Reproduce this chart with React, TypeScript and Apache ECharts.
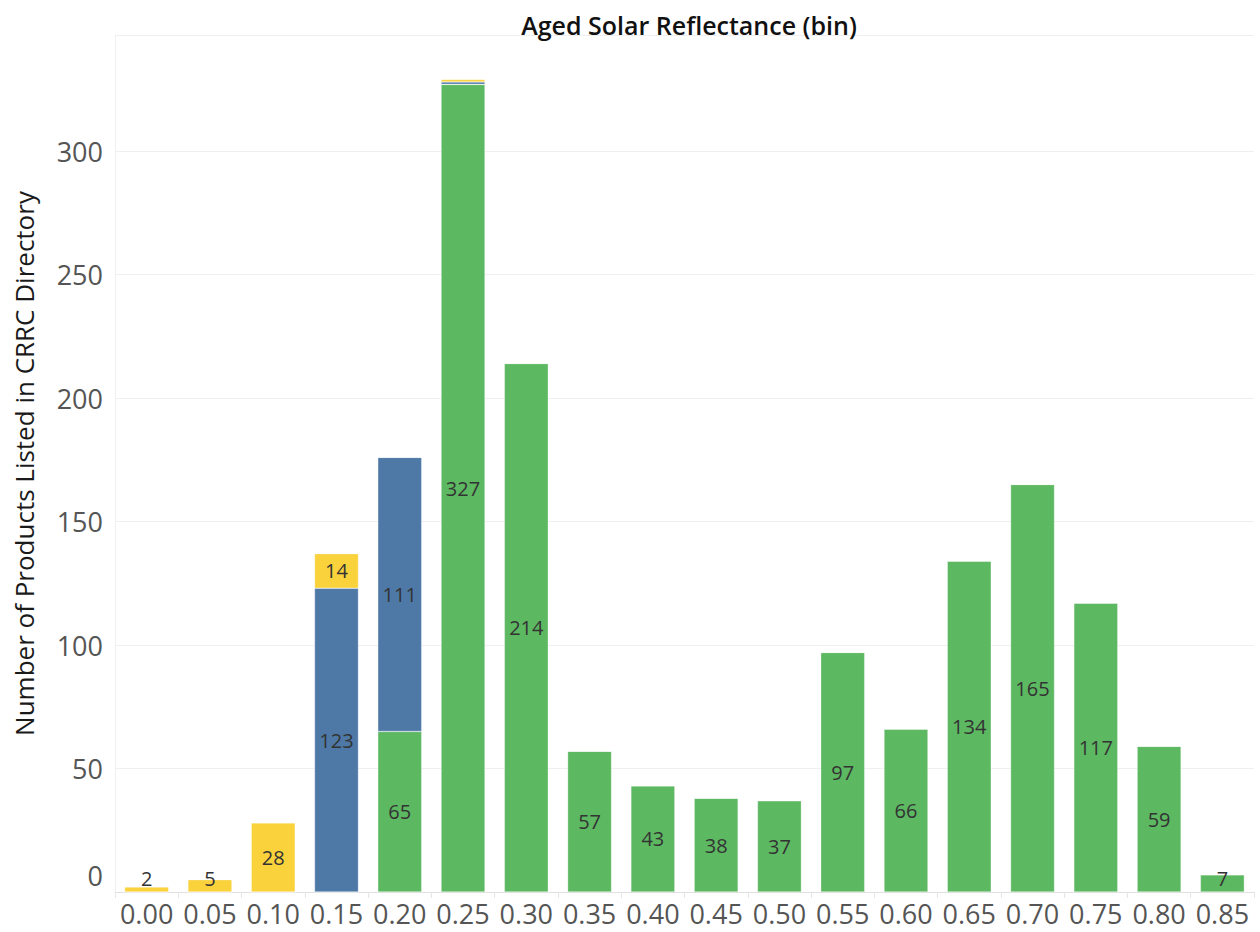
import React, { useEffect, useRef } from "react";
import * as echarts from "echarts";

const categories = ["0.00","0.05","0.10","0.15","0.20","0.25","0.30","0.35","0.40","0.45","0.50","0.55","0.60","0.65","0.70","0.75","0.80","0.85"];
const greenValues = [0,0,0,0,65,327,214,57,43,38,37,97,66,134,165,117,59,7];
const blueValues = [0,0,0,123,111,1,0,0,0,0,0,0,0,0,0,0,0,0];
const yellowValues = [2,5,28,14,0,1,0,0,0,0,0,0,0,0,0,0,0,0];
const yTicks = [0,50,100,150,200,250,300];

const TITLE = "Aged Solar Reflectance (bin)";
const Y_NAME = "Number of Products Listed in CRRC Directory";

const FONT = "'Open Sans', 'Noto Sans', sans-serif";
const GRID_TOP = 35;
const GRID_BOTTOM = 40;
const HEIGHT = 932;
const Y_MAX = 347;
const PX_PER_UNIT = (HEIGHT - GRID_TOP - GRID_BOTTOM) / Y_MAX;
const MIN_LABEL_LIFT = 14;

function buildData(values: number[], below: number[][]) {
  return values.map((v, i) => {
    const base = below.reduce((s, arr) => s + arr[i], 0);
    const show = v > 1;
    let dy = 0;
    if (show && base === 0) {
      const center = (v * PX_PER_UNIT) / 2;
      if (center < MIN_LABEL_LIFT) dy = -(MIN_LABEL_LIFT - center);
    }
    return {
      value: v,
      label: { show, offset: [0, dy] },
    };
  });
}

export default function App() {
  const ref = useRef<HTMLDivElement>(null);
  useEffect(() => {
    if (!ref.current) return;
    const chart = echarts.init(ref.current, undefined, { renderer: "svg" });
    const labelStyle = {
      position: "inside",
      color: "#333333",
      fontSize: 20,
      fontFamily: FONT,
    };
    const mk = (name: string, values: number[], below: number[][], color: string) => ({
      name,
      type: "bar",
      stack: "total",
      barWidth: 44,
      itemStyle: { color, borderColor: "rgba(255,255,255,0.5)", borderWidth: 0.6 },
      label: labelStyle,
      data: buildData(values, below),
    });
    chart.setOption({
      animation: false,
      backgroundColor: "#ffffff",
      title: {
        text: TITLE,
        left: 684,
        top: 7,
        textAlign: "center",
        textStyle: { fontFamily: FONT, fontSize: 25, fontWeight: 600, color: "#111111" },
      },
      grid: {
        left: 115,
        right: 6,
        top: GRID_TOP,
        bottom: GRID_BOTTOM,
        containLabel: false,
        outerBoundsMode: "none",
      },
      xAxis: {
        type: "category",
        data: categories,
        axisLine: { show: true, lineStyle: { color: "#e0e0e0", width: 1 } },
        axisTick: { show: true, alignWithLabel: false, length: 6, lineStyle: { color: "#e6e6e6" } },
        axisLabel: {
          color: "#555555",
          fontSize: 27,
          fontFamily: FONT,
          margin: 8,
          interval: 0,
          hideOverlap: false,
        },
        splitLine: { show: false },
      },
      yAxis: {
        type: "value",
        min: 0,
        max: Y_MAX,
        interval: 50,
        name: Y_NAME,
        nameLocation: "middle",
        nameGap: 78,
        nameTextStyle: { fontFamily: FONT, fontSize: 26, fontWeight: 500, color: "#1a1a1a" },
        axisLine: { show: true, lineStyle: { color: "#f0f0f0" } },
        axisTick: { show: false },
        axisLabel: {
          color: "#555555",
          fontSize: 27,
          fontFamily: FONT,
          margin: 12,
          showMaxLabel: false,
          formatter: (v: number) => (v === 0 ? "{z|0}" : yTicks.includes(v) ? String(v) : ""),
          rich: { z: { fontSize: 27, fontFamily: FONT, color: "#555555", padding: [0, 0, 33, 0] } },
        },
        splitLine: { show: true, lineStyle: { color: "#efefef", width: 1 } },
      },
      series: [
        mk("green", greenValues, [], "#5db862"),
        mk("blue", blueValues, [greenValues], "#4e79a7"),
        mk("yellow", yellowValues, [greenValues, blueValues], "#f9d23c"),
      ],
    });
    return () => chart.dispose();
  }, []);
  return (
    <div
      ref={ref}
      style={{ position: "fixed", left: 0, top: 0, width: 1260, height: 932, background: "#fff" }}
    />
  );
}
